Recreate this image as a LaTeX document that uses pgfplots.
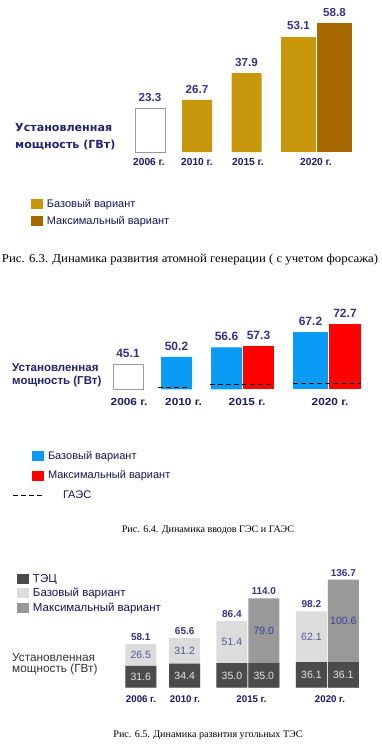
\documentclass[border=0pt]{standalone}
\usepackage{fontspec}
\setmainfont{Liberation Sans}
\setsansfont{Liberation Sans}
\newfontfamily\capfont{Liberation Serif}
\newfontfamily\wideb{DejaVu Sans}
\usepackage{graphicx}
\usepackage{pgfplots}
\pgfplotsset{compat=1.18}
\definecolor{goldc}{HTML}{C8960A}
\definecolor{brownc}{HTML}{A86800}
\definecolor{bluec}{HTML}{0A9CF5}
\definecolor{redc}{HTML}{FF0000}
\definecolor{darkc}{HTML}{4B4B4B}
\definecolor{lightc}{HTML}{DCDCDC}
\definecolor{grayc}{HTML}{999999}
\definecolor{boxc}{HTML}{9A9A9A}
\definecolor{valc}{HTML}{333388}
\definecolor{navyc}{HTML}{222270}
\definecolor{legc}{HTML}{14145A}
\definecolor{yearc}{HTML}{1A1A66}
\definecolor{inlightc}{HTML}{55558F}
\definecolor{ingrayc}{HTML}{3C3C9A}
\definecolor{indarkc}{HTML}{E6E6E6}
\newcommand{\fs}[1]{\fontsize{#1}{#1}\selectfont}
\pgfplotsset{
  chart/.style={scale only axis, width=382pt, xmin=0, xmax=382, ytick=\empty,
    axis line style={draw=none}, major tick length=0pt, tick style={draw=none},
    /pgf/number format/assume math mode=true,
    legend cell align=left,
    legend style={draw=none, fill=none, anchor=north west, inner sep=0pt, outer sep=0pt}},
  sqlegend/.style={legend image code/.code={\fill[##1, draw=none] (0pt,-5pt) rectangle (12pt,5pt);}},
  dashlegend/.style={legend image code/.code={\path[draw=none, fill=none] (0pt,-5pt) rectangle (12pt,5pt); \draw[##1,overlay] (-19pt,0pt) -- (11pt,0pt);}},
  valfmt/.style={nodes near coords={\pgfmathprintnumber[fixed,fixed zerofill,precision=1]{\pgfplotspointmeta}}},
}
\begin{document}
\begin{tikzpicture}
\path[use as bounding box] (0,0) rectangle (382pt,-747pt);
% ---------------- Chart 1 ----------------
\begin{axis}[chart, at={(0pt,-152pt)}, anchor=south west, height=152pt,
  ymin=4.9, ymax=68.4,
  xtick={149,197,248,316}, xticklabels={2006 г.,2010 г.,2015 г.,2020 г.},
  xticklabel style={font=\fs{10.2}\bfseries, text=yearc, yshift=-3pt},
  legend style={at={(axis description cs:0.081,-0.296)}, font=\fs{11}, text=legc, row sep=4pt, column sep=2pt},
  every node near coord/.append style={font=\fs{11.6}\bfseries, text=valc, yshift=3pt}]
\addlegendimage{sqlegend, fill=goldc}
\addlegendentry{Базовый вариант}
\addlegendimage{sqlegend, fill=brownc}
\addlegendentry{Максимальный вариант}
\addplot[ybar, bar shift=0pt, bar width=30, fill=white, draw=boxc, line width=0.8pt, forget plot, valfmt] coordinates {(150,23.3)};
\addplot[ybar, bar shift=0pt, bar width=30, fill=goldc, draw=none, forget plot, valfmt] coordinates {(197,26.7) (246.5,37.9)};
\addplot[ybar, bar shift=0pt, bar width=35, fill=goldc, draw=none, forget plot, valfmt] coordinates {(298.5,53.1)};
\addplot[ybar, bar shift=0pt, bar width=35, fill=brownc, draw=none, forget plot, valfmt] coordinates {(334.5,58.8)};
\end{axis}
\node[anchor=west, font=\wideb\bfseries\fs{11.1}, text=navyc, inner sep=0pt] at (15pt,-128pt) {Установленная};
\node[anchor=west, font=\wideb\bfseries\fs{11.1}, text=navyc, inner sep=0pt] at (15pt,-145pt) {мощность (ГВт)};
\node[font=\capfont\fs{12}, inner sep=0pt] at (190pt,-260pt) {\resizebox{376pt}{\height}{Рис. 6.3. Динамика развития атомной генерации ( с учетом форсажа)}};
% ---------------- Chart 2 ----------------
\begin{axis}[chart, at={(0pt,-389.3pt)}, anchor=south west, height=100pt,
  ymin=28, ymax=96.4,
  xtick={129,183.5,247,330}, xticklabels={2006 г.,2010 г.,2015 г.,2020 г.},
  xticklabel style={font=\fs{10.2}\bfseries, text=yearc, xscale=1.16, yshift=-6pt},
  legend style={at={(axis description cs:0.0838,-0.597)}, font=\fs{11}, text=legc, row sep=6pt, column sep=2pt},
  every node near coord/.append style={font=\fs{12}\bfseries, text=valc, yshift=3pt}]
\addlegendimage{sqlegend, fill=bluec}
\addlegendentry{Базовый вариант}
\addlegendimage{sqlegend, fill=redc}
\addlegendentry{Максимальный вариант}
\addlegendimage{dashlegend, black, dash pattern=on 5pt off 3pt, line width=0.8pt}
\addlegendentry{\hspace*{15pt}ГАЭС}
\addplot[ybar, bar shift=0pt, bar width=30, fill=white, draw=boxc, line width=0.8pt, forget plot, valfmt] coordinates {(128,45.1)};
\addplot[ybar, bar shift=0pt, bar width=31, fill=bluec, draw=none, forget plot, valfmt] coordinates {(176.5,50.2) (226.5,56.6)};
\addplot[ybar, bar shift=0pt, bar width=31, fill=redc, draw=none, forget plot, valfmt] coordinates {(258.5,57.3)};
\addplot[ybar, bar shift=0pt, bar width=35, fill=bluec, draw=none, forget plot, valfmt] coordinates {(310.5,67.2)};
\addplot[ybar, bar shift=0pt, bar width=32, fill=redc, draw=none, forget plot, valfmt] coordinates {(345,72.7)};
\addplot[black, dash pattern=on 5pt off 3pt, line width=0.8pt, forget plot] coordinates {(158,29.4) (188,29.4)};
\addplot[black, dash pattern=on 5pt off 3pt, line width=0.8pt, forget plot] coordinates {(210,31.2) (273,31.2)};
\addplot[black, dash pattern=on 5pt off 3pt, line width=0.8pt, forget plot] coordinates {(293,32.1) (361,32.1)};
\end{axis}
\node[anchor=west, font=\bfseries\fs{11.5}, text=navyc, inner sep=0pt] at (12pt,-368pt) {Установленная};
\node[anchor=west, font=\bfseries\fs{11.5}, text=navyc, inner sep=0pt] at (12pt,-382pt) {мощность (ГВт)};
\node[font=\capfont\fs{10.1}, inner sep=0pt] at (208pt,-530pt) {Рис. 6.4. Динамика вводов ГЭС и ГАЭС};
% ---------------- Chart 3 ----------------
\begin{axis}[chart, at={(0pt,-687.7pt)}, anchor=south west, height=130pt,
  ymin=5, ymax=163.5,
  xtick={141,185,251.5,330}, xticklabels={2006 г.,2010 г.,2015 г.,2020 г.},
  xticklabel style={font=\fs{9.7}\bfseries, text=yearc, yshift=-4pt},
  legend style={at={(axis description cs:0.0445,0.888)}, font=\fs{11.5}, text=legc, row sep=0.5pt, column sep=2pt},
  every node near coord/.append style={font=\fs{10}\bfseries, text=valc}]
\addlegendimage{sqlegend, fill=darkc}
\addlegendentry{ТЭЦ}
\addlegendimage{sqlegend, fill=lightc}
\addlegendentry{Базовый вариант}
\addlegendimage{sqlegend, fill=grayc}
\addlegendentry{Максимальный вариант}
\addplot[ybar, bar shift=0pt, bar width=31, fill=lightc, draw=none, forget plot, valfmt] coordinates {(140.8,58.1) (184.7,65.6) (231.9,86.4) (311.4,98.2)};
\addplot[ybar, bar shift=0pt, bar width=31, fill=grayc, draw=none, forget plot, valfmt] coordinates {(263.8,114.0) (343.3,136.7)};
\addplot[ybar, bar shift=0pt, bar width=31, fill=darkc, draw=none, forget plot] coordinates {(140.8,31.6) (184.7,34.4) (231.9,35.0) (263.8,35.0) (311.4,36.1) (343.3,36.1)};
\addplot[draw=none, mark=none, forget plot, nodes near coords, point meta=explicit symbolic,
  every node near coord/.style={anchor=center, font=\fs{10.5}, text=indarkc}]
  coordinates {(140.8,18.3)[31.6] (184.7,19.7)[34.4] (231.9,20)[35.0] (263.8,20)[35.0] (311.4,20.55)[36.1] (343.3,20.55)[36.1]};
\addplot[draw=none, mark=none, forget plot, nodes near coords, point meta=explicit symbolic,
  every node near coord/.style={anchor=center, font=\fs{10.5}, text=inlightc}]
  coordinates {(140.8,44.85)[26.5] (184.7,50)[31.2] (231.9,60.7)[51.4] (311.4,67.15)[62.1]};
\addplot[draw=none, mark=none, forget plot, nodes near coords, point meta=explicit symbolic,
  every node near coord/.style={anchor=center, font=\fs{10.5}, text=ingrayc}]
  coordinates {(263.8,74.5)[79.0] (343.3,86.4)[100.6]};
\end{axis}
\node[anchor=west, font=\fs{11.8}, text=black!80, inner sep=0pt] at (12pt,-657pt) {Установленная};
\node[anchor=west, font=\fs{11.8}, text=black!80, inner sep=0pt] at (12pt,-669pt) {мощность (ГВт)};
\node[font=\capfont\fs{10.1}, inner sep=0pt] at (208pt,-735pt) {Рис. 6.5. Динамика развития угольных ТЭС};
\end{tikzpicture}
\end{document}
